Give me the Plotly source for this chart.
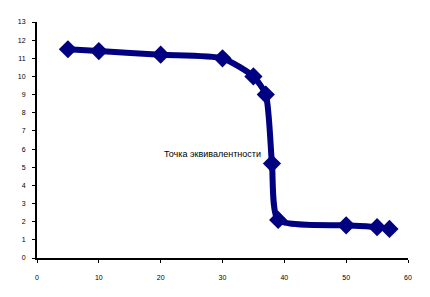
import plotly.graph_objects as go

volume = [5, 10, 20, 30, 35, 37, 38, 39, 50, 55, 57]
ph = [11.5, 11.4, 11.2, 11.0, 10.0, 9.0, 5.2, 2.1, 1.8, 1.7, 1.6]
x_ticks = [0, 10, 20, 30, 40, 50, 60]
y_ticks = list(range(0, 14))
label = "Точка эквивалентности"

fig = go.Figure()
fig.add_trace(go.Scatter(
    x=volume, y=ph, mode="lines+markers",
    line=dict(color="#000080", width=6, shape="spline", smoothing=0.6),
    marker=dict(symbol="diamond", size=14, color="#000080"),
    showlegend=False,
))
fig.add_annotation(x=36.6, y=5.75, text=label, showarrow=False, xanchor="right",
                   font=dict(family="Liberation Sans, Arial", size=9, color="black"))
fig.update_layout(
    width=430, height=297,
    margin=dict(l=37, r=22, t=22, b=39),
    paper_bgcolor="white", plot_bgcolor="white",
    font=dict(family="Liberation Sans, Arial", size=7, color="black"),
)
fig.update_xaxes(range=[0, 60], tickvals=x_ticks, showgrid=False, zeroline=False,
                 showline=True, linecolor="black", linewidth=2,
                 ticks="outside", ticklen=3, tickcolor="black",
                 ticklabelstandoff=9)
fig.update_yaxes(range=[0, 13], tickvals=y_ticks, showgrid=False, zeroline=False,
                 showline=True, linecolor="black", linewidth=2,
                 ticks="outside", ticklen=3, tickcolor="black",
                 ticklabelstandoff=5)
fig.write_html("out.html")
